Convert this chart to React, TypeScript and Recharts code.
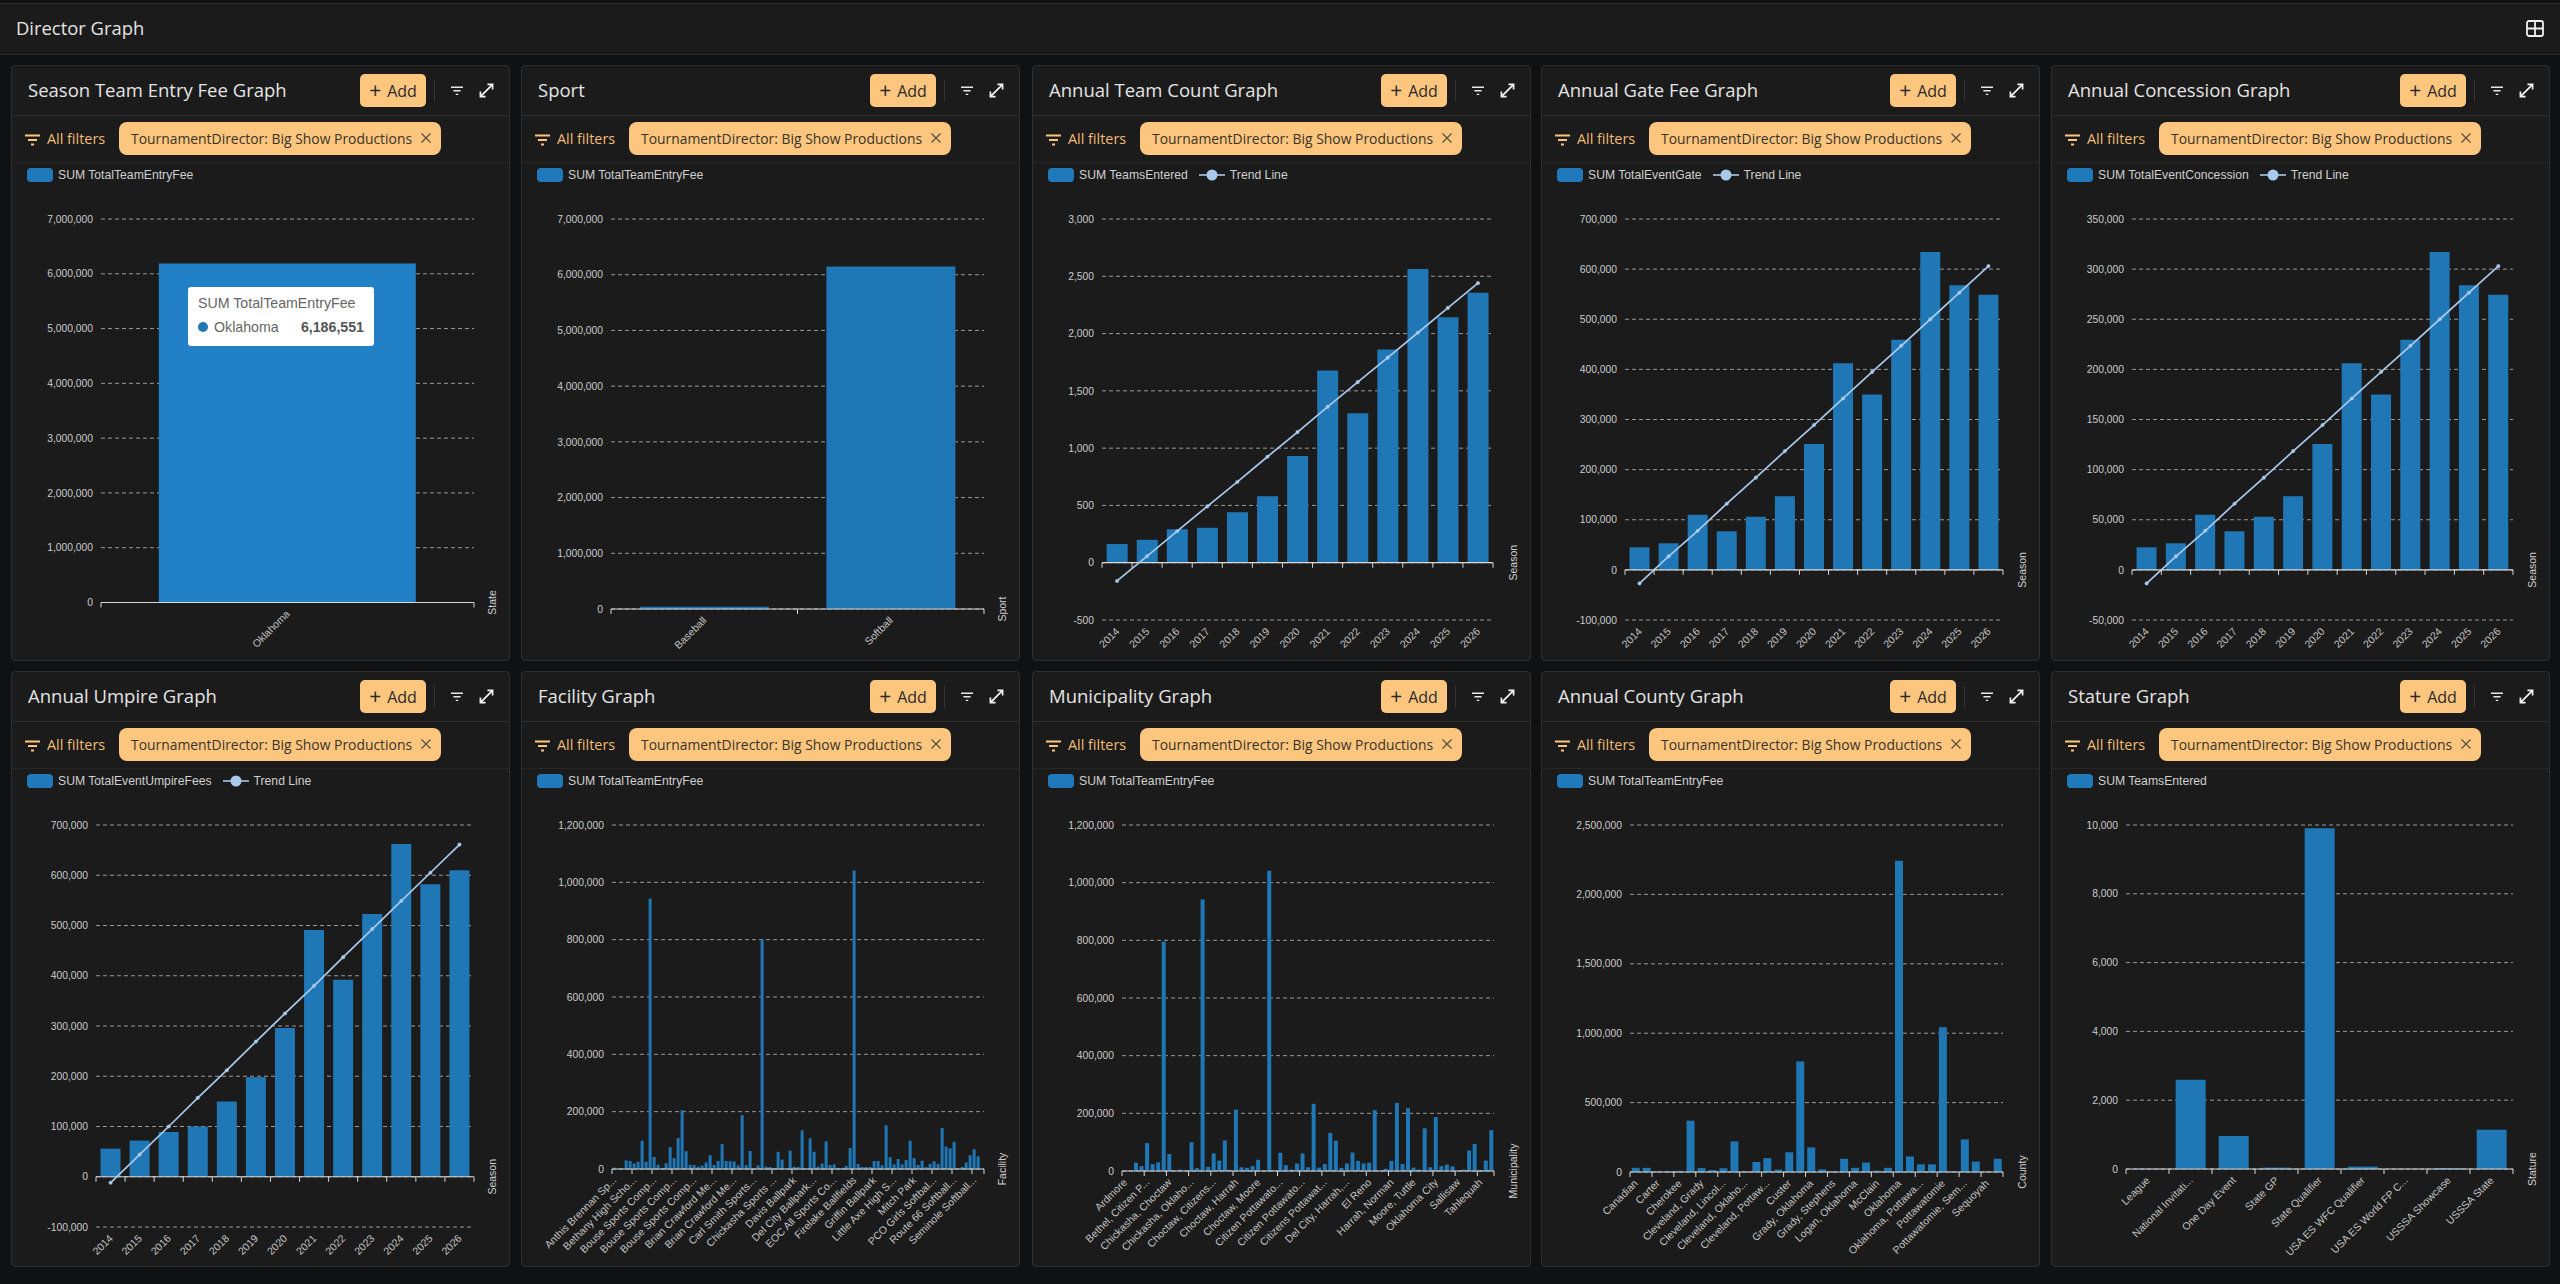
import React from 'react'
import { Bar, CartesianGrid, ComposedChart, Legend, Line, ReferenceLine, Tooltip, XAxis, YAxis } from 'recharts'

const seasons = ['2014', '2015', '2016', '2017', '2018', '2019', '2020', '2021', '2022', '2023', '2024', '2025', '2026']

const teamCounts = [163, 200, 292, 305, 441, 580, 932, 1678, 1305, 1861, 2563, 2142, 2356]
const teamTrend = [-159, 58, 275, 492, 705, 925, 1140, 1360, 1576, 1790, 2007, 2224, 2440]
const gateFees = [45000, 53000, 110000, 77000, 106000, 147000, 251000, 412000, 350000, 459000, 634000, 568000, 549000]
const gateTrend = [-27000, 27000, 78000, 132000, 184000, 237000, 289000, 342000, 395000, 447000, 500000, 553000, 606000]
const concessions = [22500, 26500, 55000, 38500, 53000, 73500, 125500, 206000, 175000, 229500, 317000, 284000, 274500]
const concessionTrend = [-13500, 13500, 39000, 66000, 92000, 118500, 144500, 171000, 197500, 223500, 250000, 276500, 303000]
const umpireFees = [56000, 72000, 89000, 100000, 150000, 198000, 296000, 491000, 392000, 523000, 662000, 582000, 610000]
const umpireTrend = [-12000, 44000, 100000, 157000, 212000, 269000, 325000, 380000, 437000, 493000, 549000, 605000, 661000]

const stateNames = ['Oklahoma']
const stateFees = [6186551]
const sportNames = ['Baseball', 'Softball']
const sportFees = [40000, 6146000]

const facilityLabels = ['Anthis Brennan Sp...', 'Bethany High Scho...', 'Bouse Sports Comp...', 'Bouse Sports Comp...', 'Bouse Sports Comp...', 'Brian Crawford Me...', 'Brian Crawford Me...', 'Carl Smith Sports...', 'Chickasha Sports ...', 'Davis Ballpark', 'Del City Ballpark...', 'EOC All Sports Co...', 'Firelake Ballfields', 'Griffin Ballpark', 'Little Axe High S...', 'Mitch Park', 'PCO Girls Softbal...', 'Route 66 Softball...', 'Seminole Softball...']
const facilityFees = [
  5000, 1000, 1000, 30000, 28000, 19000, 25000, 99000, 25000, 944000,
  42000, 15000, 4000, 20000, 76000, 38000, 108000, 205000, 62000, 15000,
  14000, 8000, 12000, 23000, 48000, 14000, 28000, 87000, 28000, 27000,
  26000, 12000, 188000, 13000, 63000, 1000, 12000, 800000, 8000, 7000,
  3000, 60000, 33000, 2000, 64000, 8000, 7000, 135000, 2000, 107000,
  60000, 8000, 19000, 96000, 14000, 16000, 4000, 4000, 11000, 73000,
  1041000, 17000, 7000, 7000, 7000, 28000, 28000, 13000, 152000, 41000,
  16000, 35000, 16000, 31000, 99000, 38000, 14000, 29000, 7000, 18000,
  27000, 18000, 143000, 78000, 72000, 95000, 1000, 7000, 23000, 48000,
  69000, 44000, 1000,
]

const municipalityLabels = ['Ardmore', 'Bethel, Citizen P...', 'Chickasha, Choctaw', 'Chickasha, Oklaho...', 'Choctaw, Citizens...', 'Choctaw, Harrah', 'Choctaw, Moore', 'Citizen Pottawato...', 'Citizen Pottawato...', 'Citizens Pottawat...', 'Del City, Harrah,...', 'El Reno', 'Harrah, Norman', 'Moore, Tuttle', 'Oklahoma City', 'Sallisaw', 'Tahlequah']
const municipalityFees = [
  1000, 1000, 29000, 17000, 97000, 24000, 30000, 795000, 59000, 2000,
  5000, 2000, 100000, 10000, 942000, 14000, 61000, 36000, 106000, 4000,
  213000, 13000, 11000, 17000, 39000, 1000, 1041000, 2000, 63000, 20000,
  5000, 26000, 61000, 13000, 233000, 12000, 24000, 132000, 105000, 11000,
  26000, 64000, 35000, 26000, 29000, 211000, 1000, 8000, 35000, 236000,
  24000, 218000, 12000, 5000, 148000, 13000, 187000, 17000, 22000, 16000,
  1000, 5000, 71000, 94000, 4000, 36000, 142000,
]

const countyLabels = ['Canadian', 'Carter', 'Cherokee', 'Cleveland, Grady', 'Cleveland, Lincol...', 'Cleveland, Oklaho...', 'Cleveland, Pottaw...', 'Custer', 'Grady, Oklahoma', 'Grady, Stephens', 'Logan, Oklahoma', 'McClain', 'Oklahoma', 'Oklahoma, Pottawa...', 'Pottawatomie', 'Pottawatomie, Sem...', 'Sequoyah']
const countyFees = [
  30000, 30000, 4000, 6000, 8000, 370000, 28000, 14000, 27000, 220000,
  6000, 72000, 100000, 17000, 142000, 797000, 177000, 19000, 5000, 95000,
  30000, 68000, 10000, 30000, 2242000, 112000, 55000, 55000, 1043000, 5000,
  235000, 75000, 2000, 95000,
]

const statureNames = ['League', 'National Invitati...', 'One Day Event', 'State GP', 'State Qualifier', 'USA ES WFC Qualifier', 'USA ES World FP C...', 'USSSA Showcase', 'USSSA State']
const statureTeams = [10, 2596, 960, 40, 9909, 70, 5, 30, 1141]

const feeTicks7m = [0, 1000000, 2000000, 3000000, 4000000, 5000000, 6000000, 7000000]
const teamTicks = [-500, 0, 500, 1000, 1500, 2000, 2500, 3000]
const gateTicks = [-100000, 0, 100000, 200000, 300000, 400000, 500000, 600000, 700000]
const concessionTicks = [-50000, 0, 50000, 100000, 150000, 200000, 250000, 300000, 350000]
const fee12Ticks = [0, 200000, 400000, 600000, 800000, 1000000, 1200000]
const countyTicks = [0, 500000, 1000000, 1500000, 2000000, 2500000]
const statureTicks = [0, 2000, 4000, 6000, 8000, 10000]

const PANEL_W = 499
const PANEL_H = 596
const CHART_TOP = 97
const CHART_H = PANEL_H - CHART_TOP
const PLOT_TOP = 154
const panelX = [11, 521, 1032, 1541, 2051]
const panelY = [65, 671]

const BLUE = '#1f77b6'
const TREND = '#a9c9ec'
const CHIP = '#fdc67e'
const AXIS_FONT = '"Liberation Sans", Arial, sans-serif'
const UI_FONT = '"Open Sans", "Noto Sans", sans-serif'

// every fifth / fourth / second label is all that's readable on the crowded ones
function sparse(labels: string[], every: number, count: number) {
  return Array.from({ length: count }, (_, i) => (i % every === 0 ? labels[i / every] ?? '' : ''))
}

const panels = [
  { title: 'Season Team Entry Fee Graph', legend: 'SUM TotalTeamEntryFee', names: stateNames, values: stateFees, ticks: feeTicks7m, left: 90, right: 463, bottom: 537.5, axisName: 'State', every: 1, color: '#2280c6', tooltip: true },
  { title: 'Sport', legend: 'SUM TotalTeamEntryFee', names: sportNames, values: sportFees, ticks: feeTicks7m, left: 90, right: 463, bottom: 544, axisName: 'Sport', every: 1 },
  { title: 'Annual Team Count Graph', legend: 'SUM TeamsEntered', names: seasons, values: teamCounts, trend: teamTrend, ticks: teamTicks, left: 70, right: 461, bottom: 555, axisName: 'Season', every: 1 },
  { title: 'Annual Gate Fee Graph', legend: 'SUM TotalEventGate', names: seasons, values: gateFees, trend: gateTrend, ticks: gateTicks, left: 84, right: 462, bottom: 555, axisName: 'Season', every: 1 },
  { title: 'Annual Concession Graph', legend: 'SUM TotalEventConcession', names: seasons, values: concessions, trend: concessionTrend, ticks: concessionTicks, left: 81, right: 462, bottom: 555, axisName: 'Season', every: 1 },
  { title: 'Annual Umpire Graph', legend: 'SUM TotalEventUmpireFees', names: seasons, values: umpireFees, trend: umpireTrend, ticks: gateTicks, left: 85, right: 463, bottom: 556, axisName: 'Season', every: 1 },
  { title: 'Facility Graph', legend: 'SUM TotalTeamEntryFee', names: sparse(facilityLabels, 5, facilityFees.length), values: facilityFees, ticks: fee12Ticks, left: 91, right: 463, bottom: 498, axisName: 'Facility', every: 5 },
  { title: 'Municipality Graph', legend: 'SUM TotalTeamEntryFee', names: sparse(municipalityLabels, 4, municipalityFees.length), values: municipalityFees, ticks: fee12Ticks, left: 90, right: 462, bottom: 500, axisName: 'Municipality', every: 4 },
  { title: 'Annual County Graph', legend: 'SUM TotalTeamEntryFee', names: sparse(countyLabels, 2, countyFees.length), values: countyFees, ticks: countyTicks, left: 89, right: 462, bottom: 501, axisName: 'County', every: 2 },
  { title: 'Stature Graph', legend: 'SUM TeamsEntered', names: statureNames, values: statureTeams, ticks: statureTicks, left: 75, right: 462, bottom: 498, axisName: 'Stature', every: 1 },
]

const FilterLines = ({ color, size = 15 }: any) => (
  <svg width={size} height={size * 0.8} viewBox="0 0 15 12" style={{ display: 'block' }}>
    <path d="M0 1.5H15M3 6H12M6 10.5H9" stroke={color} strokeWidth={1.8} fill="none" />
  </svg>
)

function PanelLegend({ label, trend }: any) {
  return (
    <div style={{ display: 'flex', alignItems: 'center', height: 0, font: `12.2px ${AXIS_FONT}`, color: '#cfcfcf', whiteSpace: 'nowrap' }}>
      <span style={{ width: 26, height: 14, borderRadius: 4, background: '#2079ba', marginRight: 5 }} />
      <span>{label}</span>
      {trend && (
        <>
          <svg width={26} height={14} style={{ marginLeft: 11, marginRight: 5 }}>
            <line x1={0} x2={26} y1={7} y2={7} stroke={TREND} strokeWidth={1.6} />
            <circle cx={13} cy={7} r={5.5} fill={TREND} />
          </svg>
          <span>Trend Line</span>
        </>
      )}
    </div>
  )
}

function FeeTooltip() {
  return (
    <div style={{ width: 186, height: 59, boxSizing: 'border-box', padding: '8px 10px', background: '#fff', borderRadius: 3, font: `14.2px ${AXIS_FONT}`, color: '#666' }}>
      <div style={{ marginBottom: 8, lineHeight: '16px', whiteSpace: 'nowrap' }}>SUM TotalTeamEntryFee</div>
      <div style={{ display: 'flex', alignItems: 'center', lineHeight: '16px', whiteSpace: 'nowrap' }}>
        <span style={{ width: 10, height: 10, borderRadius: 5, background: BLUE, marginRight: 6 }} />
        <span>{stateNames[0]}</span>
        <b style={{ marginLeft: 'auto', color: '#555' }}>{stateFees[0].toLocaleString('en-US')}</b>
      </div>
    </div>
  )
}

function PanelChart({ p }: any) {
  const data = p.names.map((name: string, i: number) => ({ name, value: p.values[i], trend: p.trend?.[i] }))
  const min = p.ticks[0]
  const max = p.ticks[p.ticks.length - 1]
  const plotBottom = p.bottom - CHART_TOP
  const plotH = p.bottom - PLOT_TOP
  const zeroDrop = (-min / (max - min)) * plotH
  const band = (p.right - p.left) / data.length
  const zeroY = plotBottom - zeroDrop
  const lastShown = Math.floor((data.length - 1) / p.every) * p.every

  const renderTick = (t: any) => {
    const tx = t.x
    const idx = t.payload?.index ?? 0
    return (
      <g>
        <line x1={tx - band / 2} x2={tx - band / 2} y1={zeroY} y2={zeroY + 5} stroke="#d8d8d8" />
        {idx === lastShown && <line x1={p.right} x2={p.right} y1={zeroY} y2={zeroY + 5} stroke="#d8d8d8" />}
        <text
          x={tx + 3}
          y={plotBottom + 12}
          textAnchor="end"
          transform={`rotate(-45 ${tx + 3} ${plotBottom + 12})`}
          fill="#c2c2c2"
          fontSize={10.5}
          fontFamily={AXIS_FONT}
        >
          {t.payload?.value}
        </text>
      </g>
    )
  }

  return (
    <ComposedChart
      width={PANEL_W}
      height={CHART_H}
      data={data}
      barCategoryGap="15.5%"
      margin={{ top: PLOT_TOP - CHART_TOP, right: PANEL_W - p.right, bottom: 0, left: 0 }}
    >
      <CartesianGrid vertical={false} stroke="#9a9a9a" strokeDasharray="4 3" />
      <XAxis
        dataKey="name"
        height={CHART_H - plotBottom}
        axisLine={false}
        tickLine={false}
        tickSize={0}
        interval={p.every - 1}
        tick={renderTick}
        label={{
          value: p.axisName,
          content: () => (
            <text
              x={485}
              y={zeroY}
              textAnchor="middle"
              transform={`rotate(-90 485 ${zeroY})`}
              fill="#d0d0d0"
              fontSize={10.5}
              fontFamily={AXIS_FONT}
            >
              {p.axisName}
            </text>
          ),
        }}
      />
      <YAxis
        width={p.left}
        domain={[min, max]}
        ticks={p.ticks}
        interval={0}
        axisLine={false}
        tickLine={false}
        tickSize={0}
        tickMargin={8}
        tickFormatter={(v: number) => v.toLocaleString('en-US')}
        tick={{ fill: '#cccccc', fontSize: 10.3, fontFamily: AXIS_FONT }}
      />
      <Legend
        verticalAlign="top"
        align="left"
        wrapperStyle={{ top: 13, left: 16, width: 'auto', height: 0 }}
        content={() => <PanelLegend label={p.legend} trend={!!p.trend} />}
      />
      {p.tooltip && (
        <Tooltip
          defaultIndex={0}
          cursor={false}
          position={{ x: 177, y: 125 }}
          isAnimationActive={false}
          content={() => <FeeTooltip />}
        />
      )}
      <Bar dataKey="value" fill={p.color ?? BLUE} isAnimationActive={false} legendType="none" />
      <ReferenceLine y={0} stroke="#d8d8d8" strokeWidth={1.2} />
      {p.trend && (
        <Line
          dataKey="trend"
          stroke={TREND}
          strokeWidth={1.7}
          dot={{ r: 1.8, fill: TREND, stroke: TREND, strokeWidth: 0.3 }}
          activeDot={false}
          isAnimationActive={false}
        />
      )}
    </ComposedChart>
  )
}

function Panel({ p, x, y }: any) {
  return (
    <div style={{ position: 'absolute', left: x, top: y, width: PANEL_W, height: PANEL_H, boxSizing: 'border-box', background: '#1b1b1b', border: '1px solid #2e2f31', borderRadius: 4 }}>
      <div style={{ position: 'absolute', left: 16, top: 11, font: `18.5px ${UI_FONT}`, color: '#e4e4e4', whiteSpace: 'nowrap' }}>{p.title}</div>
      <div style={{ position: 'absolute', left: 348, top: 8, width: 66, height: 33, background: CHIP, borderRadius: 5, font: `16px ${UI_FONT}`, color: '#2a2a2a', lineHeight: '33px', textAlign: 'center', whiteSpace: 'nowrap' }}>
        <span style={{ fontSize: 21, marginRight: 6, verticalAlign: -1 }}>+</span>Add
      </div>
      <div style={{ position: 'absolute', left: 422, top: 14, width: 1, height: 22, background: '#333' }} />
      <div style={{ position: 'absolute', left: 439, top: 20 }}><FilterLines color="#e8e8e8" size={12} /></div>
      <svg width={15} height={15} viewBox="0 0 16 16" style={{ position: 'absolute', left: 467, top: 17 }}>
        <path d="M2 14L14 2M9 1.5H14.5V7M1.5 9V14.5H7" stroke="#f2f2f2" strokeWidth={1.8} fill="none" />
      </svg>
      <div style={{ position: 'absolute', left: 0, right: 0, top: 49, height: 1, background: '#2e2f31' }} />
      <div style={{ position: 'absolute', left: 13, top: 68 }}><FilterLines color={CHIP} /></div>
      <div style={{ position: 'absolute', left: 35, top: 63, font: `14.4px ${UI_FONT}`, color: '#f2bc74', whiteSpace: 'nowrap' }}>All filters</div>
      <div style={{ position: 'absolute', left: 107, top: 56, width: 322, height: 33, background: CHIP, borderRadius: 8, font: `13.9px ${UI_FONT}`, color: '#3a3328', lineHeight: '33px', whiteSpace: 'nowrap' }}>
        <span style={{ position: 'absolute', left: 12 }}>TournamentDirector: Big Show Productions</span>
        <svg width={10} height={10} viewBox="0 0 10 10" style={{ position: 'absolute', left: 302, top: 11 }}>
          <path d="M0.5 0.5L9.5 9.5M9.5 0.5L0.5 9.5" stroke="#5a5040" strokeWidth={1.3} />
        </svg>
      </div>
      <div style={{ position: 'absolute', left: 0, right: 0, top: 96, height: 1, background: '#262729' }} />
      <div style={{ position: 'absolute', left: -1, top: CHART_TOP - 1 }}>
        <PanelChart p={p} />
      </div>
    </div>
  )
}

export default function App() {
  return (
    <div style={{ position: 'absolute', left: 0, top: 0, width: 2560, height: 1284, background: '#101112', overflow: 'hidden' }}>
      <div style={{ position: 'absolute', left: 0, top: 3, width: 2560, height: 50, background: '#1b1b1b', borderTop: '1px solid #2e2f31', borderBottom: '1px solid #2e2f31' }}>
        <div style={{ position: 'absolute', left: 16, top: 11, font: `18.4px ${UI_FONT}`, color: '#e4e4e4' }}>Director Graph</div>
        <svg width={18} height={17} viewBox="0 0 18 17" style={{ position: 'absolute', left: 2526, top: 16 }}>
          <rect x={1} y={1} width={16} height={15} rx={2} fill="none" stroke="#f0f0f0" strokeWidth={1.8} />
          <path d="M1 8.5H17M9 1V16" stroke="#f0f0f0" strokeWidth={1.8} />
        </svg>
      </div>
      {panels.map((p, i) => (
        <Panel key={p.title} p={p} x={panelX[i % 5]} y={panelY[Math.floor(i / 5)]} />
      ))}
    </div>
  )
}
